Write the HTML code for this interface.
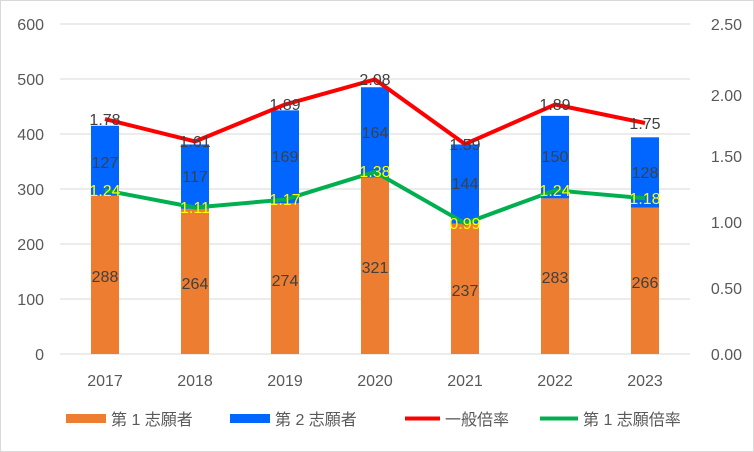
<!DOCTYPE html>
<html><head><meta charset="utf-8"><style>
html,body{margin:0;padding:0;background:#fff}
svg{display:block;font-family:"Liberation Sans","Noto Sans CJK JP",sans-serif}
</style></head><body>
<svg width="754" height="452" viewBox="0 0 754 452">
<rect x="0.5" y="0.5" width="753" height="451" fill="#fff" stroke="#d9d9d9"/>
<g stroke="#d9d9d9" stroke-width="1">
<line x1="60" x2="690" y1="24" y2="24"/><line x1="60" x2="690" y1="79" y2="79"/>
<line x1="60" x2="690" y1="134" y2="134"/><line x1="60" x2="690" y1="189" y2="189"/>
<line x1="60" x2="690" y1="244" y2="244"/><line x1="60" x2="690" y1="299" y2="299"/>
<line x1="60" x2="690" y1="354" y2="354"/>
</g>
<g fill="#595959" font-size="16" text-anchor="end">
<text x="44" y="30">600</text><text x="44" y="85">500</text><text x="44" y="140">400</text>
<text x="44" y="195">300</text><text x="44" y="250">200</text><text x="44" y="305">100</text><text x="44" y="360">0</text>
</g>
<g fill="#595959" font-size="16" text-anchor="end">
<text x="742" y="30">2.50</text><text x="742" y="101">2.00</text><text x="742" y="162">1.50</text>
<text x="742" y="228">1.00</text><text x="742" y="294">0.50</text><text x="742" y="360">0.00</text>
</g>
<g fill="#595959" font-size="16" text-anchor="middle">
<text x="105" y="386">2017</text><text x="195" y="386">2018</text><text x="285" y="386">2019</text>
<text x="375" y="386">2020</text><text x="465" y="386">2021</text><text x="555" y="386">2022</text><text x="645" y="386">2023</text>
</g>
<g fill="#ED7D31">
<rect x="91" y="195.6" width="28" height="158.4"/><rect x="181" y="208.8" width="28" height="145.2"/>
<rect x="271" y="203.3" width="28" height="150.7"/><rect x="361" y="177.45" width="28" height="176.55"/>
<rect x="451" y="223.65" width="28" height="130.35"/><rect x="541" y="198.35" width="28" height="155.65"/>
<rect x="631" y="207.7" width="28" height="146.3"/>
</g>
<g fill="#0066FF">
<rect x="91" y="125.75" width="28" height="69.85"/><rect x="181" y="144.45" width="28" height="64.35"/>
<rect x="271" y="110.35" width="28" height="92.95"/><rect x="361" y="87.25" width="28" height="90.2"/>
<rect x="451" y="144.45" width="28" height="79.2"/><rect x="541" y="115.85" width="28" height="82.5"/>
<rect x="631" y="137.3" width="28" height="70.4"/>
</g>
<g fill="#404040" font-size="16" text-anchor="middle">
<text x="105" y="282">288</text><text x="195" y="289">264</text><text x="285" y="286">274</text>
<text x="375" y="273">321</text><text x="465" y="296">237</text><text x="555" y="283">283</text><text x="645" y="288">266</text>
<text x="105" y="168">127</text><text x="195" y="182">117</text><text x="285" y="162">169</text>
<text x="375" y="138">164</text><text x="465" y="189">144</text><text x="555" y="162">150</text><text x="645" y="178">128</text>
</g>
<polyline fill="none" stroke="#FF0000" stroke-width="4" stroke-linejoin="round" points="105,119.04 195,141.48 285,104.52 375,79.44 465,144.12 555,104.52 645,123"/>
<polyline fill="none" stroke="#00B050" stroke-width="4" stroke-linejoin="round" points="105,190.32 195,207.48 285,199.56 375,171.84 465,223.32 555,190.32 645,198.24"/>
<g fill="#404040" font-size="16" text-anchor="middle">
<text x="105" y="125">1.78</text><text x="195" y="147">1.61</text><text x="285" y="110">1.89</text>
<text x="375" y="85">2.08</text><text x="465" y="150">1.59</text><text x="555" y="110">1.89</text><text x="645" y="129">1.75</text>
</g>
<g fill="#FFFF00" font-size="16" text-anchor="middle">
<text x="105" y="196">1.24</text><text x="195" y="213">1.11</text><text x="285" y="205">1.17</text>
<text x="375" y="177">1.38</text><text x="465" y="229">0.99</text><text x="555" y="196">1.24</text><text x="645" y="204">1.18</text>
</g>
<g font-size="16" fill="#595959">
<rect x="66" y="414" width="40" height="9" fill="#ED7D31"/><text x="111" y="425">第 1 志願者</text>
<rect x="230" y="414" width="40" height="9" fill="#0066FF"/><text x="275" y="425">第 2 志願者</text>
<line x1="405" x2="440" y1="418.5" y2="418.5" stroke="#FF0000" stroke-width="4"/><text x="445" y="425">一般倍率</text>
<line x1="540" x2="578" y1="418.5" y2="418.5" stroke="#00B050" stroke-width="4"/><text x="583" y="425">第 1 志願倍率</text>
</g>
</svg>
</body></html>
